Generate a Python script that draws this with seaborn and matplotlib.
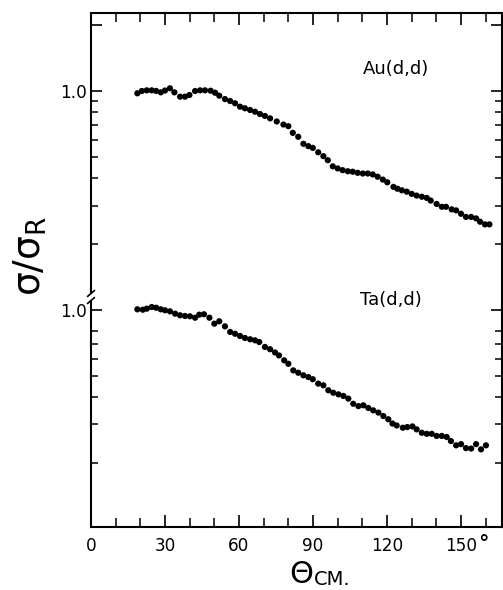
import numpy as np
import pandas as pd
import matplotlib
matplotlib.use("Agg")
import matplotlib.pyplot as plt
from matplotlib.ticker import FixedLocator, FixedFormatter, NullFormatter
import seaborn as sns

# Elastic deuteron scattering, ratio to Rutherford cross section
theta_au = [18.8, 20.6, 22.6, 24.6, 26.4, 28.3, 30.0, 32.0, 33.8, 36.1,
            38.1, 39.9, 42.2, 44.2, 46.2, 48.5, 50.3, 52.0, 54.3, 56.4,
            58.4, 60.4, 62.4, 64.5, 66.5, 68.5, 70.5, 72.6, 75.3, 78.0,
            80.0, 81.8, 84.0, 86.1, 88.1, 89.9, 92.1, 94.2, 96.0, 98.0,
            100.0, 102.0, 104.1, 106.1, 108.1, 110.2, 112.2, 114.2, 116.2, 118.3,
            120.1, 122.6, 124.2, 126.0, 128.0, 130.0, 132.0, 134.1, 136.1, 137.7,
            140.1, 142.2, 143.9, 146.2, 148.0, 150.0, 152.0, 154.1, 156.1, 157.7,
            159.7, 161.5]
ratio_au = [0.976, 1.000, 1.007, 1.007, 1.001, 0.986, 1.005, 1.029, 0.986, 0.942,
            0.942, 0.959, 1.000, 1.007, 1.007, 1.003, 0.982, 0.952, 0.919, 0.900,
            0.879, 0.848, 0.834, 0.819, 0.804, 0.785, 0.769, 0.750, 0.726, 0.703,
            0.691, 0.644, 0.618, 0.574, 0.560, 0.550, 0.525, 0.504, 0.483, 0.453,
            0.443, 0.435, 0.430, 0.428, 0.423, 0.420, 0.420, 0.416, 0.406, 0.394,
            0.383, 0.365, 0.358, 0.352, 0.347, 0.339, 0.333, 0.329, 0.325, 0.316,
            0.305, 0.296, 0.296, 0.288, 0.285, 0.275, 0.266, 0.266, 0.262, 0.253,
            0.246, 0.246]

theta_ta = [18.8, 21.0, 22.6, 24.6, 26.4, 28.3, 30.0, 32.0, 34.1, 36.1,
            38.1, 40.1, 42.2, 43.9, 45.8, 48.0, 50.0, 52.0, 54.3, 56.4,
            58.4, 60.4, 62.4, 64.5, 66.5, 68.2, 70.5, 72.6, 74.6, 76.2,
            78.3, 80.0, 82.0, 84.0, 86.1, 88.1, 89.9, 92.1, 94.2, 96.2,
            98.2, 100.3, 102.3, 104.3, 106.3, 108.4, 110.4, 112.4, 114.4, 116.5,
            118.5, 120.5, 122.2, 123.9, 126.4, 128.2, 130.3, 132.0, 134.1, 136.1,
            138.1, 140.1, 142.2, 144.2, 145.9, 148.0, 150.0, 152.0, 154.1, 156.1,
            158.1, 160.1]
ratio_ta = [1.007, 1.003, 1.014, 1.032, 1.024, 1.007, 0.997, 0.986, 0.962, 0.946,
            0.939, 0.936, 0.922, 0.952, 0.956, 0.922, 0.866, 0.888, 0.842, 0.794,
            0.779, 0.761, 0.745, 0.735, 0.727, 0.714, 0.678, 0.662, 0.640, 0.620,
            0.589, 0.568, 0.530, 0.517, 0.503, 0.494, 0.483, 0.461, 0.453, 0.430,
            0.419, 0.412, 0.405, 0.394, 0.373, 0.364, 0.367, 0.357, 0.348, 0.340,
            0.328, 0.317, 0.303, 0.297, 0.290, 0.292, 0.294, 0.285, 0.275, 0.272,
            0.272, 0.266, 0.266, 0.263, 0.252, 0.241, 0.244, 0.234, 0.233, 0.244,
            0.231, 0.241]

# Ta curve is shifted one decade down on the shared log axis
TA_SHIFT = 0.1

x_major = [0, 30, 60, 90, 120, 150]
x_major_labels = ["0", "30", "60", "90", "120", "150"]
x_minor = [10, 20, 40, 50, 70, 80, 100, 110, 130, 140, 160]

au_minor = [0.9, 0.8, 0.7, 0.6, 0.5, 0.4, 0.3, 0.2]
ta_minor = [0.8, 0.7, 0.6, 0.5, 0.4, 0.3, 0.2]

df = pd.concat([
    pd.DataFrame({"theta": theta_au, "y": ratio_au, "target": "Au"}),
    pd.DataFrame({"theta": theta_ta, "y": np.array(ratio_ta) * TA_SHIFT, "target": "Ta"}),
], ignore_index=True)

sns.set_style("ticks")
plt.rcParams["font.family"] = ["DejaVu Sans"]
plt.rcParams["mathtext.fontset"] = "dejavusans"
for key in ["text.color", "axes.labelcolor", "xtick.color", "ytick.color",
            "xtick.labelcolor", "ytick.labelcolor", "axes.edgecolor"]:
    plt.rcParams[key] = "black"

W, H = 503, 590
fig = plt.figure(figsize=(W / 100, H / 100), dpi=100)
ax = fig.add_axes([91 / W, (H - 527) / H, 411 / W, 514 / H])

sns.scatterplot(data=df, x="theta", y="y", hue="target",
                palette={"Au": "black", "Ta": "black"},
                s=20, linewidth=0, edgecolor="none", legend=False, ax=ax)

ax.set_yscale("log")
ax.set_xlim(0, 166.6)
ax.set_ylim(0.01021, 2.271)

# x ticks
ax.xaxis.set_major_locator(FixedLocator(x_major))
ax.xaxis.set_major_formatter(FixedFormatter(x_major_labels))
ax.xaxis.set_minor_locator(FixedLocator(x_minor))
ax.tick_params(axis="x", which="major", direction="in", length=8.5, width=1.2,
               top=True, bottom=True, labelsize=12.2, pad=7.5, colors="black")
ax.tick_params(axis="x", which="minor", direction="in", length=6.2, width=1.1,
               top=True, bottom=True)

# y ticks: labelled 1.0 for each curve, minor marks below
y_major = [2.0, 1.0, TA_SHIFT]
ax.yaxis.set_major_locator(FixedLocator(y_major))
ax.yaxis.set_major_formatter(FixedFormatter(["", "1.0", "1.0"]))
ax.yaxis.set_minor_locator(FixedLocator(au_minor + [v * TA_SHIFT for v in ta_minor]))
ax.yaxis.set_minor_formatter(NullFormatter())
ax.tick_params(axis="y", which="major", direction="in", length=7.8, width=1.2,
               left=True, right=True, labelsize=12.2, pad=3, colors="black")
ax.tick_params(axis="y", which="minor", direction="in", length=5.2, width=1.1,
               left=True, right=True)

for side in ["top", "bottom", "right"]:
    ax.spines[side].set_linewidth(1.5)
    ax.spines[side].set_color("black")
ax.spines["left"].set_visible(False)

# left axis line drawn in two pieces with a break marker
ya, yb = (527 - 294) / 514, (527 - 300) / 514
ax.plot([0, 0], [ya, 1], transform=ax.transAxes, color="black", lw=1.5,
        clip_on=False, solid_capstyle="butt")
ax.plot([0, 0], [0, yb], transform=ax.transAxes, color="black", lw=1.5,
        clip_on=False, solid_capstyle="butt")
dx, dy = 7 / 411, 6 / 514
for yc in (ya + 0.001, yb - 0.001):
    ax.plot([-dx * 0.5, dx * 0.5], [yc - dy * 0.5, yc + dy * 0.5],
            transform=ax.transAxes, color="black", lw=1.2, clip_on=False)

ax.set_xlabel("")
ax.set_ylabel("")

# degree sign on the last angle label
ax.annotate("°", xy=(150, 0), xycoords=("data", "axes fraction"),
            xytext=(12.5, -5.0), textcoords="offset points",
            ha="left", va="top", fontsize=15, fontweight="bold")

ax.text(110.3, 1.26, "Au(d,d)", fontsize=13, ha="left", va="center")
ax.text(109.0, 0.111, "Ta(d,d)", fontsize=13, ha="left", va="center")

fig.text(30 / W, 1 - 256 / H, r"$\mathrm{σ/σ_R}$", rotation=90,
         fontsize=27, ha="center", va="center")

# x axis title: theta with a "CM." subscript
fig.text(313 / W, 1 - 583 / H, r"$\Theta$", fontsize=22,
         ha="right", va="baseline")
fig.text(314 / W, 1 - 585 / H, "CM.", fontsize=14,
         ha="left", va="baseline")

fig.savefig("out.png", dpi=100, facecolor="white")
